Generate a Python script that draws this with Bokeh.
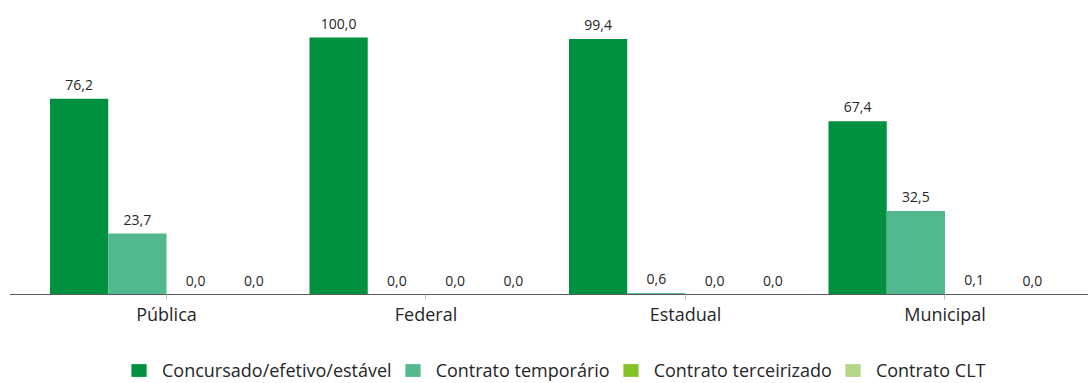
from bokeh.plotting import figure
from bokeh.models import ColumnDataSource, LabelSet, Legend, LegendItem, Range1d, FixedTicker
from bokeh.core.properties import value
from bokeh.transform import dodge
from bokeh.embed import file_html
from bokeh.resources import INLINE

categories = ["Pública", "Federal", "Estadual", "Municipal"]
series_names = ["Concursado/efetivo/estável", "Contrato temporário",
                "Contrato terceirizado", "Contrato CLT"]
concursado = [76.2, 100.0, 99.4, 67.4]
temporario = [23.7, 0.0, 0.6, 32.5]
terceirizado = [0.0, 0.0, 0.0, 0.1]
clt = [0.0, 0.0, 0.0, 0.0]
colors = ["#009140", "#52B88D", "#84C225", "#B5D686"]

series_values = [concursado, temporario, terceirizado, clt]

FONT = "Open Sans"
TEXT_COLOR = "#262626"

p = figure(width=1088, height=383, output_backend="svg", toolbar_location=None,
           x_range=Range1d(-0.605, 3.553), y_range=Range1d(-34.63, 114.4),
           min_border_left=9, min_border_right=0, min_border_top=0, min_border_bottom=0)
p.outline_line_color = None
p.xgrid.visible = False
p.ygrid.visible = False
p.yaxis.visible = False
p.background_fill_color = "white"
p.border_fill_color = "white"

xaxis = p.xaxis[0]
xaxis.fixed_location = 0
xaxis.ticker = FixedTicker(ticks=list(range(len(categories))))
xaxis.major_label_overrides = {i: c for i, c in enumerate(categories)}
xaxis.axis_line_color = "#5a5a5a"
xaxis.axis_line_width = 1
xaxis.major_tick_line_color = "#bfbfbf"
xaxis.major_tick_out = 5
xaxis.major_tick_in = 0
xaxis.minor_tick_line_color = None
xaxis.major_label_text_font = FONT
xaxis.major_label_text_font_size = "18px"
xaxis.major_label_text_color = TEXT_COLOR
xaxis.major_label_standoff = 2

bar_w = 0.2245
offsets = [-1.5 * bar_w, -0.5 * bar_w, 0.5 * bar_w, 1.5 * bar_w]

items = []
for name, vals, col, off in zip(series_names, series_values, colors, offsets):
    src = ColumnDataSource(dict(
        x=list(range(len(categories))),
        top=vals,
        label=[f"{v:.1f}".replace(".", ",") for v in vals],
    ))
    r = p.vbar(x=dodge("x", off), top="top", bottom=0, width=bar_w, source=src,
               fill_color=col, line_color=None)
    items.append(LegendItem(label=name, renderers=[r]))
    labels = LabelSet(x=dodge("x", off), y="top", text="label", source=src,
                      text_align="center", text_baseline="alphabetic", y_offset=9,
                      text_font=value(FONT), text_font_size=value("14px"),
                      text_color=TEXT_COLOR)
    p.add_layout(labels)

legend = Legend(items=items, orientation="horizontal", location=(120, 1),
                glyph_width=19, glyph_height=16, label_standoff=14, spacing=11,
                padding=0, margin=0, border_line_color=None, background_fill_alpha=0,
                label_text_font=FONT, label_text_font_size="18px",
                label_text_color=TEXT_COLOR, label_height=16)
p.add_layout(legend, "center")

open("out.html", "w").write(file_html(p, INLINE))
